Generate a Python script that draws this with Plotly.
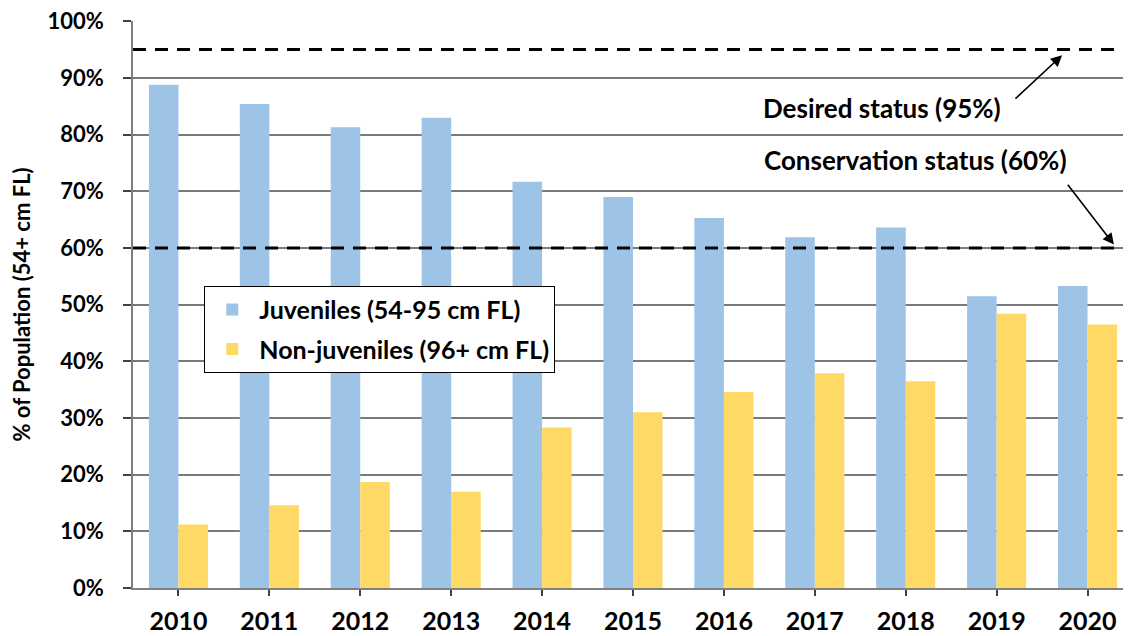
import plotly.graph_objects as go

# Data
years = [2010, 2011, 2012, 2013, 2014, 2015, 2016, 2017, 2018, 2019, 2020]
juveniles = [88.8, 85.4, 81.3, 83.0, 71.7, 69.0, 65.3, 61.9, 63.6, 51.5, 53.3]
non_juveniles = [11.2, 14.6, 18.7, 17.0, 28.3, 31.0, 34.6, 37.9, 36.5, 48.4, 46.5]
status_levels = [95, 60]
status_labels = ["Desired status (95%)", "Conservation status (60%)"]
y_ticks = list(range(0, 101, 10))

font = "Lato, Carlito, Arial"


def bold(size):
    return dict(family=font, size=size, color="black", weight="bold")


fig = go.Figure()
fig.add_trace(go.Bar(
    x=years, y=juveniles, name="Juveniles (54-95 cm FL)", legendgroup="juv",
    marker=dict(color="#9DC3E6", line=dict(width=0)),
))
fig.add_trace(go.Bar(
    x=years, y=non_juveniles, name="Non-juveniles (96+ cm FL)", legendgroup="adult",
    marker=dict(color="#FFD966", line=dict(width=0)),
))

# dashed status lines across the plot
for lvl in status_levels:
    fig.add_shape(type="line", xref="paper", x0=0, x1=1, yref="y", y0=lvl, y1=lvl,
                  line=dict(color="black", width=3, dash="13px,9px"), layer="above")

# labels and arrows
fig.add_annotation(x=2017.74, y=84.7, text=status_labels[0], showarrow=False, font=bold(26))
fig.add_annotation(x=2018.11, y=75.5, text=status_labels[1], showarrow=False, font=bold(26))
fig.add_annotation(x=2019.72, y=94.0, ax=2019.19, ay=86.1, axref="x", ayref="y",
                   text="", showarrow=True, arrowhead=2, arrowsize=1.4,
                   arrowwidth=1.6, arrowcolor="black")
fig.add_annotation(x=2020.29, y=60.6, ax=2019.77, ay=71.4, axref="x", ayref="y",
                   text="", showarrow=True, arrowhead=2, arrowsize=1.4,
                   arrowwidth=1.6, arrowcolor="black")

# page body has an 8px margin, so the figure is shifted by 8px
fig.update_layout(
    width=1132, height=636,
    margin=dict(l=125, r=17, t=13, b=56),
    paper_bgcolor="white", plot_bgcolor="white",
    barmode="group", bargap=0.35, bargroupgap=0,
    font=bold(22),
    showlegend=True,
    legend=dict(
        x=0.072, y=0.533, xanchor="left", yanchor="top",
        bgcolor="white", bordercolor="black", borderwidth=1,
        font=bold(25), itemwidth=44, tracegroupgap=4,
    ),
)
fig.update_xaxes(
    range=[2009.5, 2020.39], tickvals=years, ticktext=[str(y) for y in years],
    showgrid=False, showline=True, linecolor="#808080", linewidth=1.5,
    ticks="outside", ticklen=6, tickcolor="#404040", tickwidth=1.5,
    tickfont=bold(25), ticklabelstandoff=4,
    zeroline=False, automargin=False,
)
fig.update_yaxes(
    range=[0, 100.05], tickvals=y_ticks, ticktext=[f"{v}%" for v in y_ticks],
    showgrid=True, gridcolor="#7a7a7a", gridwidth=1.5,
    showline=True, linecolor="#808080", linewidth=1.5,
    ticks="outside", ticklen=8, tickcolor="#404040", tickwidth=1.5,
    tickfont=bold(22), ticklabelstandoff=15, ticklabeloverflow="allow",
    title=dict(text="% of Population (54+ cm FL)", standoff=22, font=bold(22)),
    zeroline=False, automargin=False,
)

fig.write_html("out.html")
